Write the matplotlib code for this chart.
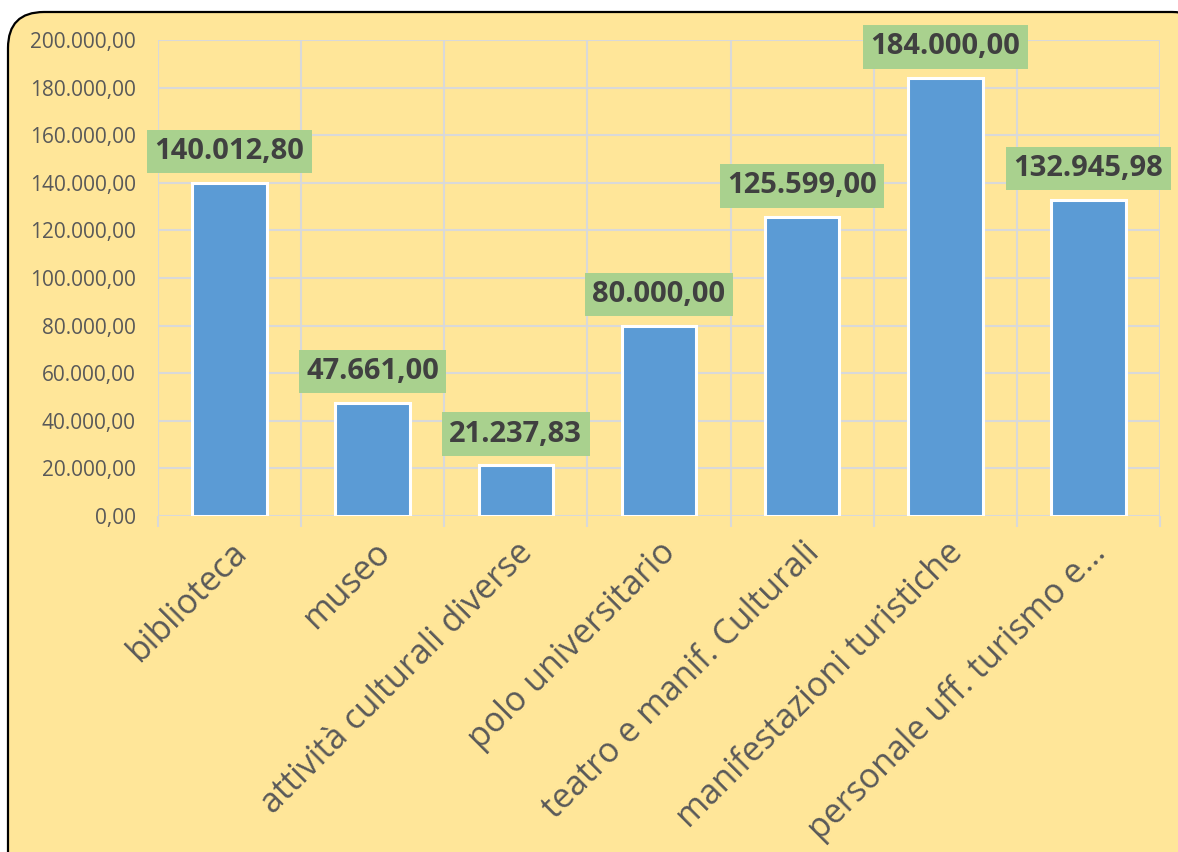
import matplotlib.pyplot as plt
from matplotlib.patches import FancyBboxPatch

plt.rcParams['font.family'] = ['Open Sans', 'DejaVu Sans']

categorie = ['biblioteca', 'museo', 'attività culturali diverse', 'polo universitario',
             'teatro e manif. Culturali', 'manifestazioni turistiche', 'personale uff. turismo e…']
importi = [140012.80, 47661.00, 21237.83, 80000.00, 125599.00, 184000.00, 132945.98]
tick_y = [0, 20000, 40000, 60000, 80000, 100000, 120000, 140000, 160000, 180000, 200000]


def formato_it(v):
    # 140012.8 -> "140.012,80"
    s = f'{v:,.2f}'
    return s.replace(',', '#').replace('.', ',').replace('#', '.')


fig = plt.figure(figsize=(11.78, 8.52), dpi=100)
fig.patch.set_facecolor('white')

# sfondo giallo con bordo arrotondato (coordinate in pollici)
sfondo = FancyBboxPatch((0.08, -1.0), 12.0, 8.52 - 0.12 + 1.0,
                        boxstyle='round,pad=0,rounding_size=0.36',
                        transform=fig.dpi_scale_trans, facecolor='#FFE699',
                        edgecolor='black', linewidth=1.6, zorder=-1)
fig.patches.append(sfondo)

ax = fig.add_axes([158 / 1178, 1 - 516 / 852, (1160 - 158) / 1178, (516 - 40) / 852])
ax.set_facecolor('none')

x = range(len(categorie))
ax.bar(x, importi, width=0.52, color='#5B9BD5', edgecolor='white', linewidth=2.2, zorder=3)

for i, v in enumerate(importi):
    ax.annotate(formato_it(v), xy=(i, v), xytext=(0, 12), textcoords='offset points',
                ha='center', va='bottom', fontsize=21, fontweight='bold', color='#404040',
                bbox=dict(boxstyle='square,pad=0.25', facecolor='#A9D18E', edgecolor='none'),
                zorder=4, annotation_clip=False)

ax.set_xlim(-0.5, len(categorie) - 0.5)
ax.set_ylim(0, 200000)
ax.set_yticks(tick_y)
ax.set_yticklabels([formato_it(t) for t in tick_y], fontsize=15, color='#595959')
ax.set_xticks(list(x))
ax.set_xticklabels(categorie, rotation=45, ha='right', rotation_mode='anchor',
                   fontsize=24.5, color='#595959')
ax.tick_params(axis='x', length=0, pad=14)
ax.tick_params(axis='y', length=0, pad=16)

# linee verticali tra le categorie e tacche sotto l'asse
confini = [i - 0.5 for i in range(len(categorie) + 1)]
ax.set_xticks(confini, minor=True)
ax.tick_params(axis='x', which='minor', length=8, color='#D9D9D9', width=1.5)
ax.grid(True, which='major', axis='y', color='#D9D9D9', linewidth=1.5, zorder=0)
ax.grid(True, which='minor', axis='x', color='#D9D9D9', linewidth=1.5, zorder=0)
for s in ax.spines.values():
    s.set_visible(False)

fig.savefig('out.png', dpi=100)
